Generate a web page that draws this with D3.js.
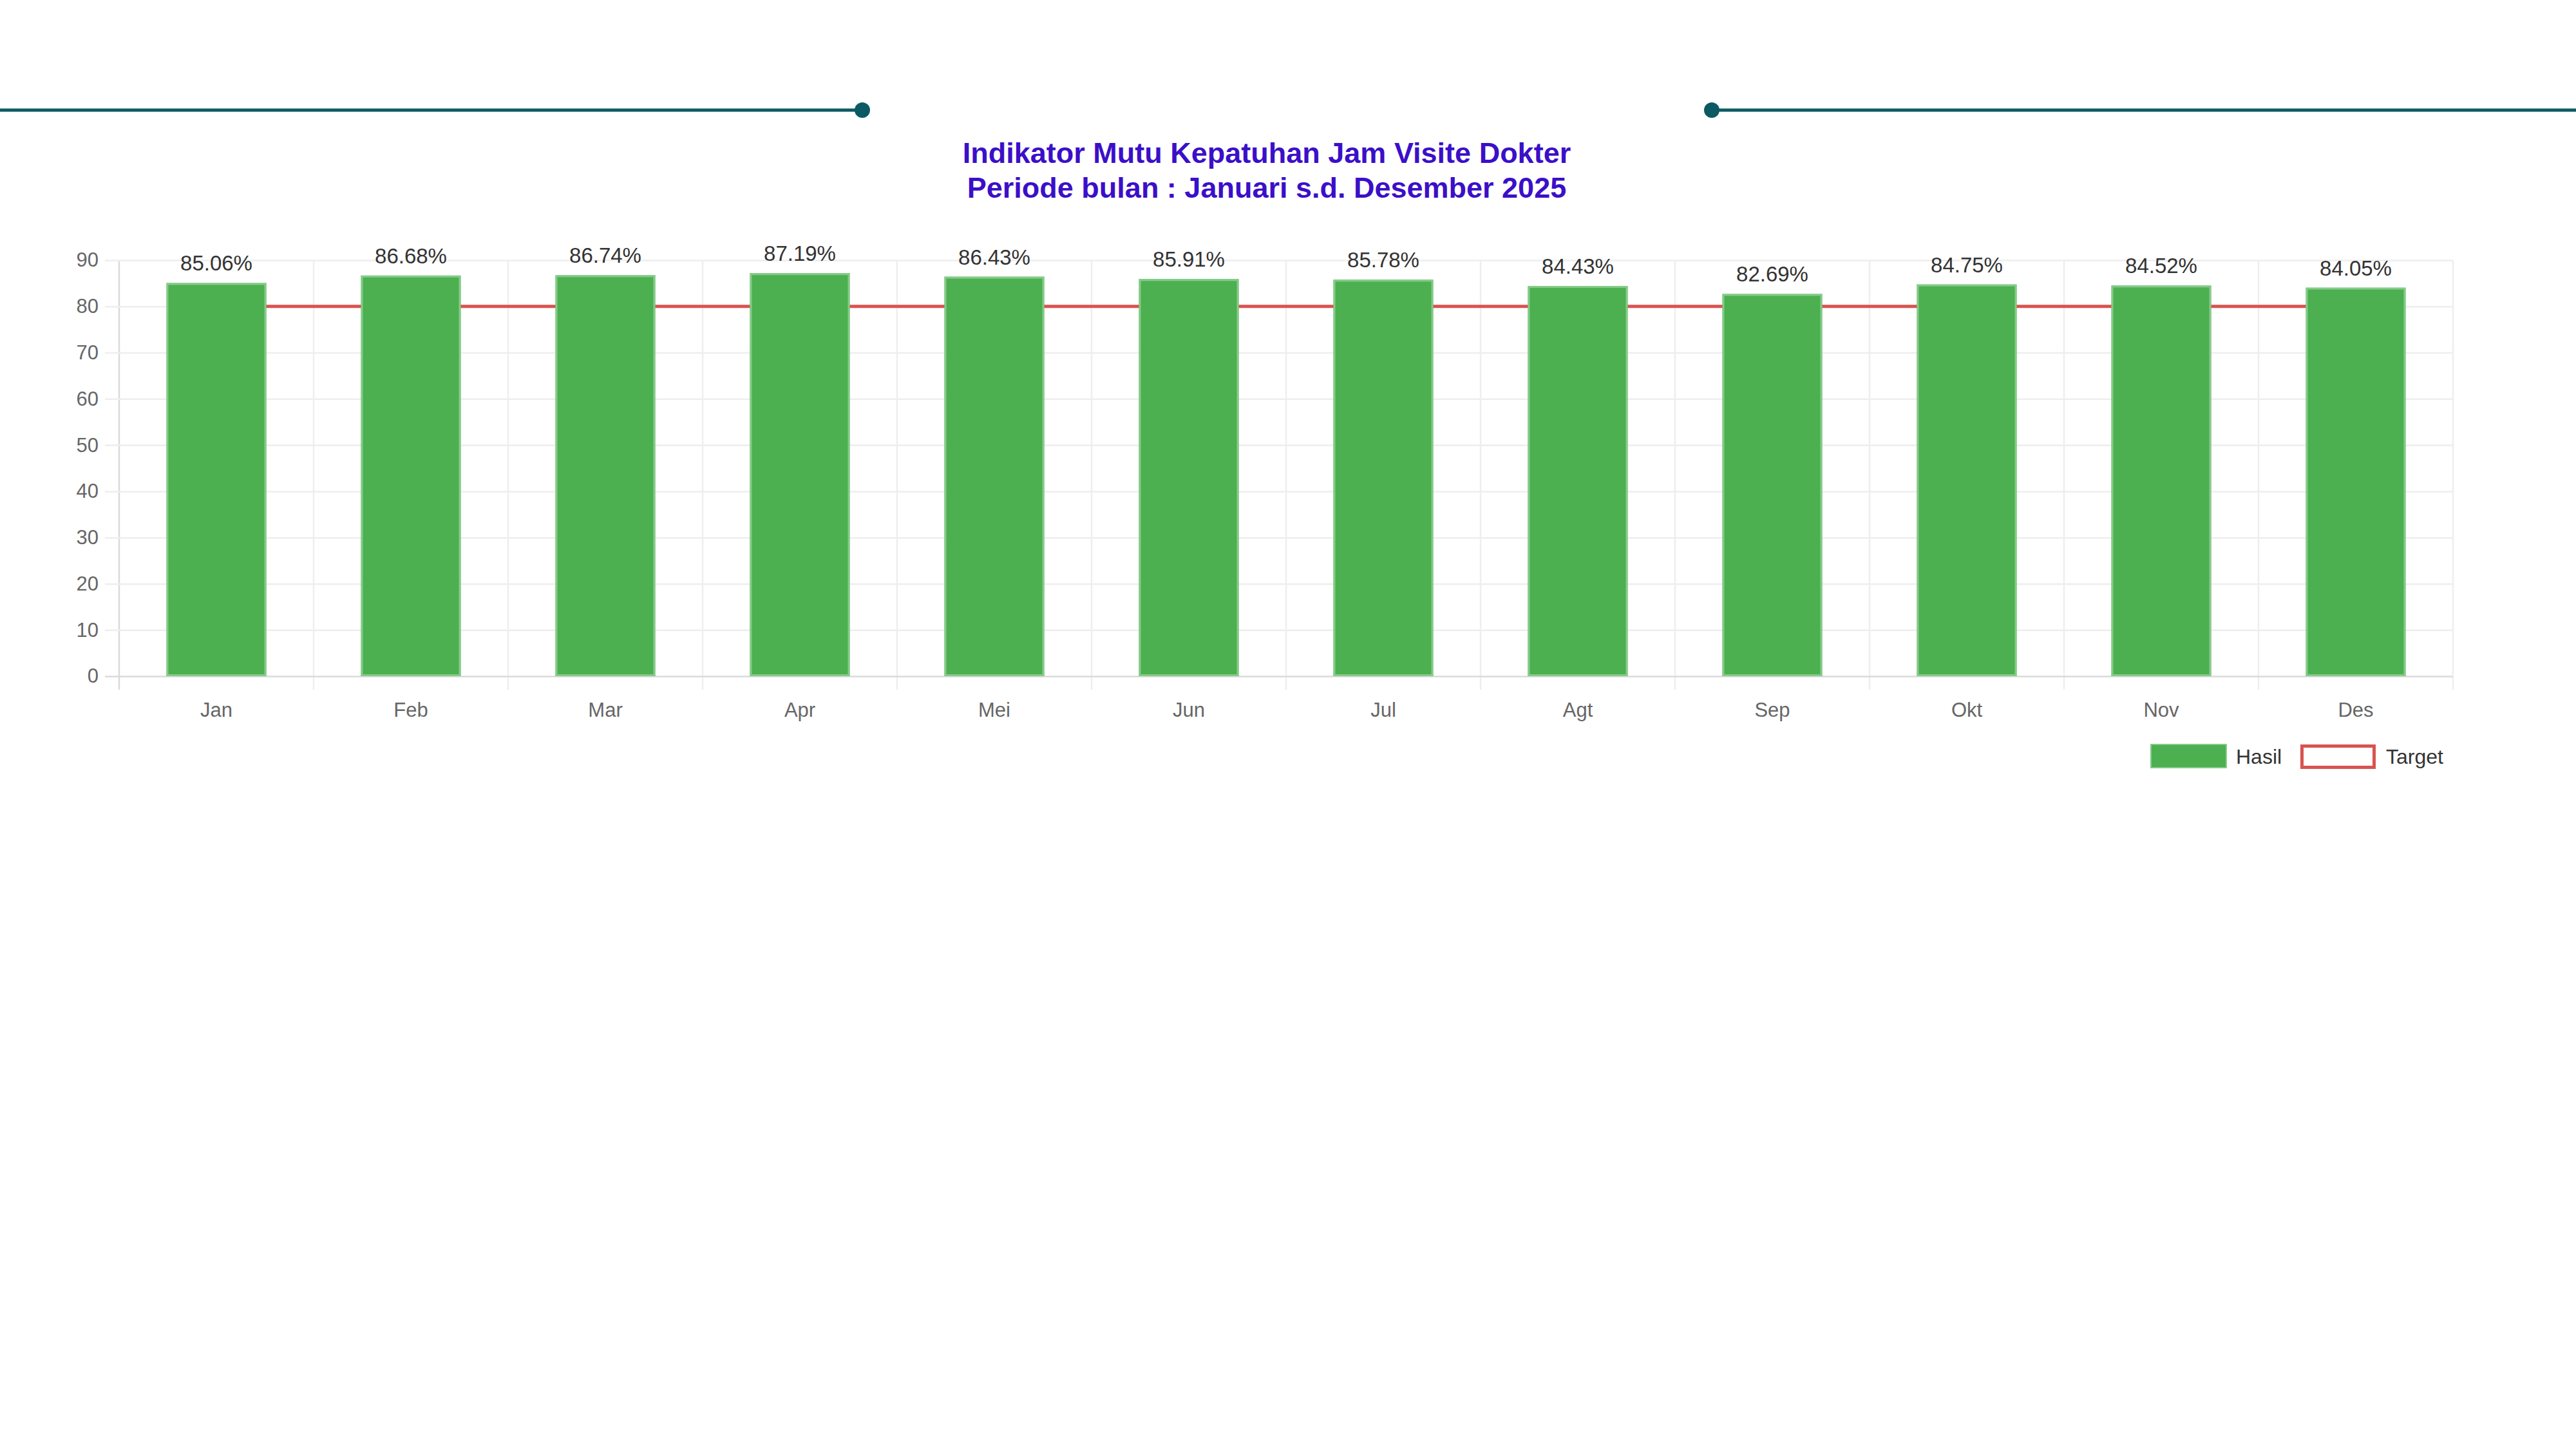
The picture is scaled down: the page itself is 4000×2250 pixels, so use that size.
<!DOCTYPE html>
<html>
<head>
<meta charset="utf-8">
<script src="https://cdn.jsdelivr.net/npm/d3@7/dist/d3.min.js"></script>
<style>
  html, body { margin: 0; padding: 0; background: #ffffff; }
  svg { display: block; }
</style>
</head>
<body>
<svg id="chart" width="4000" height="2250"></svg>
<script>
// ---- Data ----
const categories = ["Jan", "Feb", "Mar", "Apr", "Mei", "Jun", "Jul", "Agt", "Sep", "Okt", "Nov", "Des"];
const hasilValues = [85.06, 86.68, 86.74, 87.19, 86.43, 85.91, 85.78, 84.43, 82.69, 84.75, 84.52, 84.05];
const targetValues = [80, 80, 80, 80, 80, 80, 80, 80, 80, 80, 80, 80];
const yTickValues = [0, 10, 20, 30, 40, 50, 60, 70, 80, 90];
const seriesNames = ["Hasil", "Target"];
const titleLines = ["Indikator Mutu Kepatuhan Jam Visite Dokter", "Periode bulan : Januari s.d. Desember 2025"];

// ---- Layout ----
const svg = d3.select("#chart");
const FONT = "'Liberation Sans', Arial, Helvetica, sans-serif";
const plotLeft = 185, plotRight = 3809, plotTop = 404, plotBottom = 1050;

const x = d3.scaleBand().domain(categories).range([plotLeft, plotRight]).padding(0);
const y = d3.scaleLinear().domain([0, 90]).range([plotBottom, plotTop]);
const barW = x.bandwidth() * 0.513;

// ---- Decorative header lines ----
const deco = svg.append("g");
const teal = "#0b5a63";
deco.append("line").attr("x1", 0).attr("x2", 1339).attr("y1", 171).attr("y2", 171)
  .attr("stroke", teal).attr("stroke-width", 5);
deco.append("line").attr("x1", 2658).attr("x2", 4000).attr("y1", 171).attr("y2", 171)
  .attr("stroke", teal).attr("stroke-width", 5);
deco.append("circle").attr("cx", 1339).attr("cy", 171).attr("r", 12).attr("fill", teal);
deco.append("circle").attr("cx", 2658).attr("cy", 171).attr("r", 12).attr("fill", teal);

// ---- Title ----
const title = svg.append("text")
  .attr("text-anchor", "middle")
  .attr("font-family", FONT)
  .attr("font-weight", "bold")
  .attr("font-size", 45)
  .attr("fill", "#3b0fc9");
titleLines.forEach((t, i) => {
  title.append("tspan").attr("x", 1967).attr("y", 253 + i * 54).text(t);
});

// ---- Grid (vertical, category boundaries) ----
const vg = svg.append("g");
const bounds = categories.map(c => x(c)).concat([x(categories[categories.length - 1]) + x.bandwidth()]);
vg.selectAll("line").data(bounds).enter().append("line")
  .attr("x1", d => d).attr("x2", d => d)
  .attr("y1", plotTop).attr("y2", plotBottom + 21)
  .attr("stroke", (d, i) => i === 0 ? "#dadada" : "#eeeeee")
  .attr("stroke-width", 2.5);

// ---- Y axis with horizontal grid ----
const yAxis = d3.axisLeft(y)
  .tickValues(yTickValues)
  .tickSize(plotRight - 163)
  .tickPadding(10);
const yg = svg.append("g").attr("transform", `translate(${plotRight},0)`).call(yAxis);
yg.select(".domain").remove();
yg.selectAll(".tick line")
  .attr("stroke", d => d === 0 ? "#dadada" : "#eeeeee")
  .attr("stroke-width", 2.5);
yg.selectAll(".tick text")
  .attr("font-family", FONT)
  .attr("font-size", 31)
  .attr("fill", "#666666");

// ---- X axis labels ----
const xAxis = d3.axisBottom(x).tickSize(0).tickPadding(41);
const xg = svg.append("g").attr("transform", `translate(0,${plotBottom})`).call(xAxis);
xg.select(".domain").remove();
xg.selectAll(".tick text")
  .attr("font-family", FONT)
  .attr("font-size", 31)
  .attr("fill", "#666666");

// ---- Target line (behind bars) ----
const red = "#d9534f";
const lineGen = d3.line()
  .x((d, i) => x(categories[i]) + x.bandwidth() / 2)
  .y(d => y(d));
svg.append("path")
  .datum(targetValues)
  .attr("d", lineGen)
  .attr("fill", "none")
  .attr("stroke", red)
  .attr("stroke-width", 5);

// ---- Bars ----
const bars = svg.append("g");
const bw = 3;
bars.selectAll("rect.fillbar").data(hasilValues).enter().append("rect")
  .attr("class", "fillbar")
  .attr("x", (d, i) => x(categories[i]) + (x.bandwidth() - barW) / 2)
  .attr("y", d => y(d))
  .attr("width", barW)
  .attr("height", d => y(0) - y(d))
  .attr("fill", "#4caf50");
bars.selectAll("rect.border").data(hasilValues).enter().append("rect")
  .attr("class", "border")
  .attr("x", (d, i) => x(categories[i]) + (x.bandwidth() - barW) / 2 + bw / 2)
  .attr("y", d => y(d) + bw / 2)
  .attr("width", barW - bw)
  .attr("height", d => y(0) - y(d) - bw)
  .attr("fill", "none")
  .attr("stroke", "#86cb89")
  .attr("stroke-width", bw);

// ---- Value labels ----
svg.append("g").selectAll("text").data(hasilValues).enter().append("text")
  .attr("x", (d, i) => x(categories[i]) + x.bandwidth() / 2)
  .attr("y", d => y(d) - 19)
  .attr("text-anchor", "middle")
  .attr("font-family", FONT)
  .attr("font-size", 33)
  .attr("fill", "#333333")
  .text(d => d.toFixed(2) + "%");

// ---- Legend ----
const lg = svg.append("g").attr("font-family", FONT).attr("font-size", 32).attr("fill", "#333333");
lg.append("rect").attr("x", 3340).attr("y", 1156).attr("width", 117).attr("height", 36)
  .attr("fill", "#4caf50").attr("stroke", "#86cb89").attr("stroke-width", 2);
lg.append("text").attr("x", 3472).attr("y", 1186).text(seriesNames[0]);
lg.append("rect").attr("x", 3574.5).attr("y", 1158.5).attr("width", 112).attr("height", 33)
  .attr("fill", "#ffffff").attr("stroke", red).attr("stroke-width", 5);
lg.append("text").attr("x", 3705).attr("y", 1186).text(seriesNames[1]);
</script>
</body>
</html>
